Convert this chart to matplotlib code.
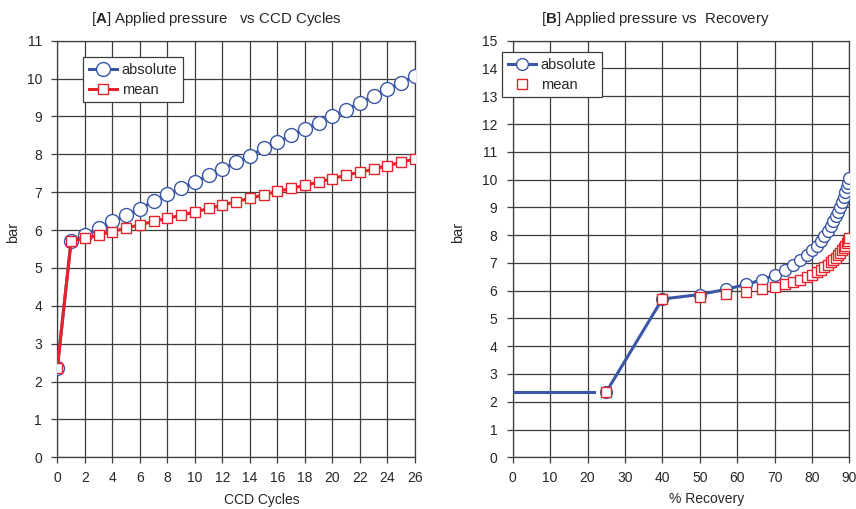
import matplotlib
matplotlib.use("Agg")
import matplotlib.pyplot as plt

plt.rcParams["font.family"] = ["Liberation Sans", "DejaVu Sans"]
plt.rcParams["mathtext.fontset"] = "custom"
plt.rcParams["mathtext.rm"] = "Liberation Sans"
plt.rcParams["mathtext.bf"] = "Liberation Sans:bold"

# CCD cycle number and applied pressure (bar)
cycles = list(range(27))
p_absolute = [2.35, 5.70, 5.86, 6.05, 6.23, 6.39, 6.56, 6.76, 6.94, 7.10,
              7.27, 7.45, 7.61, 7.79, 7.96, 8.16, 8.32, 8.50, 8.68, 8.84,
              9.02, 9.18, 9.36, 9.54, 9.72, 9.89, 10.07]
p_mean = [2.35, 5.70, 5.78, 5.87, 5.96, 6.05, 6.14, 6.23, 6.31, 6.39,
          6.48, 6.57, 6.66, 6.75, 6.84, 6.93, 7.02, 7.10, 7.18, 7.27,
          7.36, 7.45, 7.53, 7.61, 7.70, 7.79, 7.88]

# % recovery reached at each cycle
recovery = [25.0, 40.0, 50.0, 57.1, 62.5, 66.7, 70.0, 72.7, 75.0, 76.9,
            78.6, 80.0, 81.3, 82.4, 83.3, 84.2, 85.0, 85.7, 86.4, 87.0,
            87.5, 88.0, 88.5, 88.9, 89.3, 89.7, 90.0]

# feed pressure before the first cycle
feed_recovery = [0.0, 21.6]
feed_pressure = [2.35, 2.35]

blue = "#3a56a6"
red = "#e8222b"
grid_c = "#3c3c3c"
text_c = "#262626"

fig = plt.figure(figsize=(8.56, 5.09), dpi=100)
axA = fig.add_axes([0.0669, 0.1016, 0.4179, 0.8184])
axB = fig.add_axes([0.5990, 0.1016, 0.3932, 0.8184])


def style(ax):
    ax.grid(True, color=grid_c, linewidth=0.9)
    ax.set_axisbelow(True)
    for s in ax.spines.values():
        s.set_color(grid_c)
        s.set_linewidth(0.9)
    ax.tick_params(axis="both", colors=grid_c, labelcolor=text_c,
                   labelsize=10, length=4, width=0.9)
    ax.tick_params(axis="y", pad=7)
    ax.tick_params(axis="x", pad=6)


def legend(ax, anchor):
    leg = ax.legend(loc="upper left", bbox_to_anchor=anchor,
                    fontsize=10.5, frameon=True, fancybox=False,
                    edgecolor=grid_c, borderpad=0.4, borderaxespad=0,
                    handlelength=1.9, handletextpad=0.35,
                    labelspacing=0.4)
    leg.get_frame().set_linewidth(0.9)
    leg.get_frame().set_alpha(1)
    for t in leg.get_texts():
        t.set_color(text_c)
    return leg


# [A] pressure vs cycles
axA.plot(cycles, p_absolute, color=blue, lw=2.2, marker="o", ms=10,
         mfc="white", mec=blue, mew=1.0, label="absolute", zorder=3)
axA.plot(cycles, p_mean, color=red, lw=2.2, marker="s", ms=7.5,
         mfc="white", mec=red, mew=1.0, label="mean", zorder=4)
axA.set_xlim(0, 26)
axA.set_ylim(0, 11)
axA.set_xticks(range(0, 27, 2))
axA.set_yticks(range(0, 12))
style(axA)
axA.set_title(r"[$\mathbf{A}$] Applied pressure   vs CCD Cycles",
              fontsize=10.8, color=text_c, pad=13, x=0.444)
axA.set_xlabel("CCD Cycles", fontsize=10, color=text_c)
axA.set_ylabel("bar", fontsize=10.5, color=text_c)
axA.xaxis.set_label_coords(0.572, -0.085)
axA.yaxis.set_label_coords(-0.104, 0.54)
legend(axA, (0.072, 0.961))

# [B] pressure vs recovery
axB.plot(feed_recovery, feed_pressure, color=blue, lw=2.2, zorder=3)
axB.plot(recovery, p_absolute, color=blue, lw=2.2, marker="o", ms=8.5,
         mfc="white", mec=blue, mew=1.0, label="absolute", zorder=3)
axB.plot(recovery, p_mean, ls="none", marker="s", ms=7.5,
         mfc="white", mec=red, mew=1.0, label="mean", zorder=4)
axB.set_xlim(0, 90)
axB.set_ylim(0, 15)
axB.set_xticks(range(0, 91, 10))
axB.set_yticks(range(0, 16))
style(axB)
axB.set_title(r"[$\mathbf{B}$] Applied pressure vs  Recovery",
              fontsize=10.8, color=text_c, pad=13, x=0.423)
axB.set_xlabel("% Recovery", fontsize=10, color=text_c)
axB.set_ylabel("bar", fontsize=10.5, color=text_c)
axB.xaxis.set_label_coords(0.577, -0.083)
axB.yaxis.set_label_coords(-0.142, 0.54)
legend(axB, (-0.032, 0.973))

fig.savefig("out.png", dpi=100)
